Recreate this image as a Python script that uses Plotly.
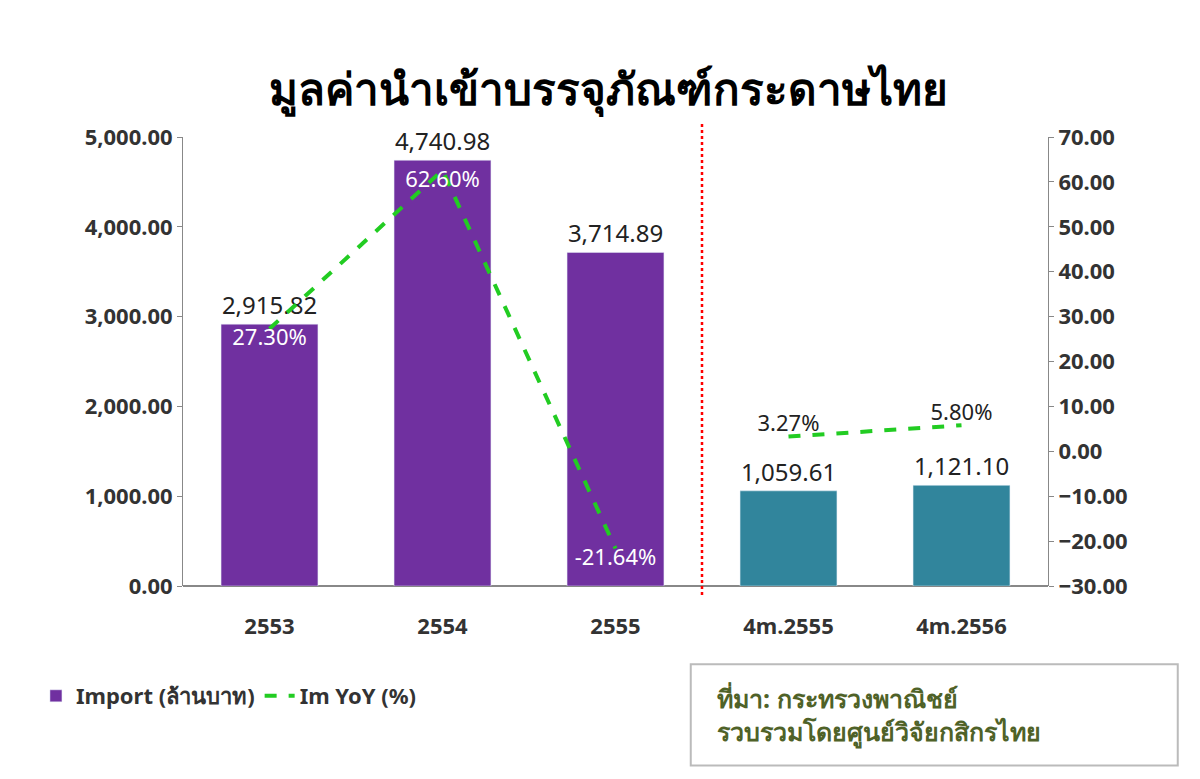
import plotly.graph_objects as go

categories = ["2553", "2554", "2555", "4m.2555", "4m.2556"]
import_values = [2915.82, 4740.98, 3714.89, 1059.61, 1121.10]
bar_colors = ["#7030A0", "#7030A0", "#7030A0", "#31859C", "#31859C"]
yoy_annual = [27.30, 62.60, -21.64]
yoy_partial = [3.27, 5.80]

font = "Tahoma, Noto Sans, DejaVu Sans, sans-serif"

fig = go.Figure()

fig.add_trace(go.Bar(
    x=categories, y=import_values,
    marker=dict(color=bar_colors),
    width=0.56,
    name="Import (ล้านบาท)",
    text=[f"{v:,.2f}" for v in import_values],
    textposition="outside",
    textfont=dict(size=24, color="#222"),
    cliponaxis=False,
))

fig.add_trace(go.Scatter(
    x=categories[:3], y=yoy_annual, yaxis="y2",
    mode="lines+text",
    line=dict(color="#22CC22", width=4, dash="dash"),
    name="Im YoY (%)",
    text=[f"{v:.2f}%" for v in yoy_annual],
    textposition="bottom center",
    textfont=dict(size=22, color="white"),
))

fig.add_trace(go.Scatter(
    x=categories[3:], y=yoy_partial, yaxis="y2",
    mode="lines+text",
    line=dict(color="#22CC22", width=4, dash="dash"),
    showlegend=False,
    text=[f"{v:.2f}%" for v in yoy_partial],
    textposition="top center",
    textfont=dict(size=22, color="#222"),
))

fig.add_shape(type="line", xref="x", yref="paper", x0=2.5, x1=2.5, y0=-0.02, y1=1.03,
              line=dict(color="red", width=2.5, dash="dot"))

fig.add_shape(type="rect", xref="paper", yref="paper", x0=0.587, x1=1.15, y0=-0.40, y1=-0.174,
              line=dict(color="#BBBBBB", width=2), fillcolor="white")
fig.add_annotation(xref="paper", yref="paper", x=0.615, y=-0.287, xanchor="left", yanchor="middle",
                   text="<b>ที่มา: กระทรวงพาณิชย์<br>รวบรวมโดยศูนย์วิจัยกสิกรไทย</b>", align="left",
                   showarrow=False, font=dict(family=font, size=25, color="#4F6228"))

fig.update_layout(
    width=1200, height=779,
    margin=dict(l=175, r=160, t=129, b=201),
    paper_bgcolor="white", plot_bgcolor="white",
    title=dict(text="<b>มูลค่านำเข้าบรรจุภัณฑ์กระดาษไทย</b>", x=0.5, y=0.915, xanchor="center",
               font=dict(family=font, size=44, color="black")),
    font=dict(family=font, size=22, color="#333"),
    bargap=0.4,
    xaxis=dict(showline=False, ticks="", showgrid=False, ticklabelstandoff=25,
               tickfont=dict(size=22, weight="bold")),
    yaxis=dict(range=[0, 5000], dtick=1000, tickformat=",.2f", showgrid=False,
               showline=True, linecolor="#888", ticks="outside", tickcolor="#888",
               tickfont=dict(size=22, color="#333", weight="bold"), zeroline=True, zerolinecolor="#888"),
    yaxis2=dict(range=[-30, 70], dtick=10, tickformat=".2f", overlaying="y", side="right",
                showgrid=False, showline=True, linecolor="#888", ticks="outside", tickcolor="#888",
                tickfont=dict(size=22, color="#333", weight="bold"), zeroline=False),
    legend=dict(orientation="h", x=-0.17, y=-0.245, xanchor="left", yanchor="middle",
                font=dict(size=22, color="#333", weight="bold")),
)

fig.write_html("out.html")
